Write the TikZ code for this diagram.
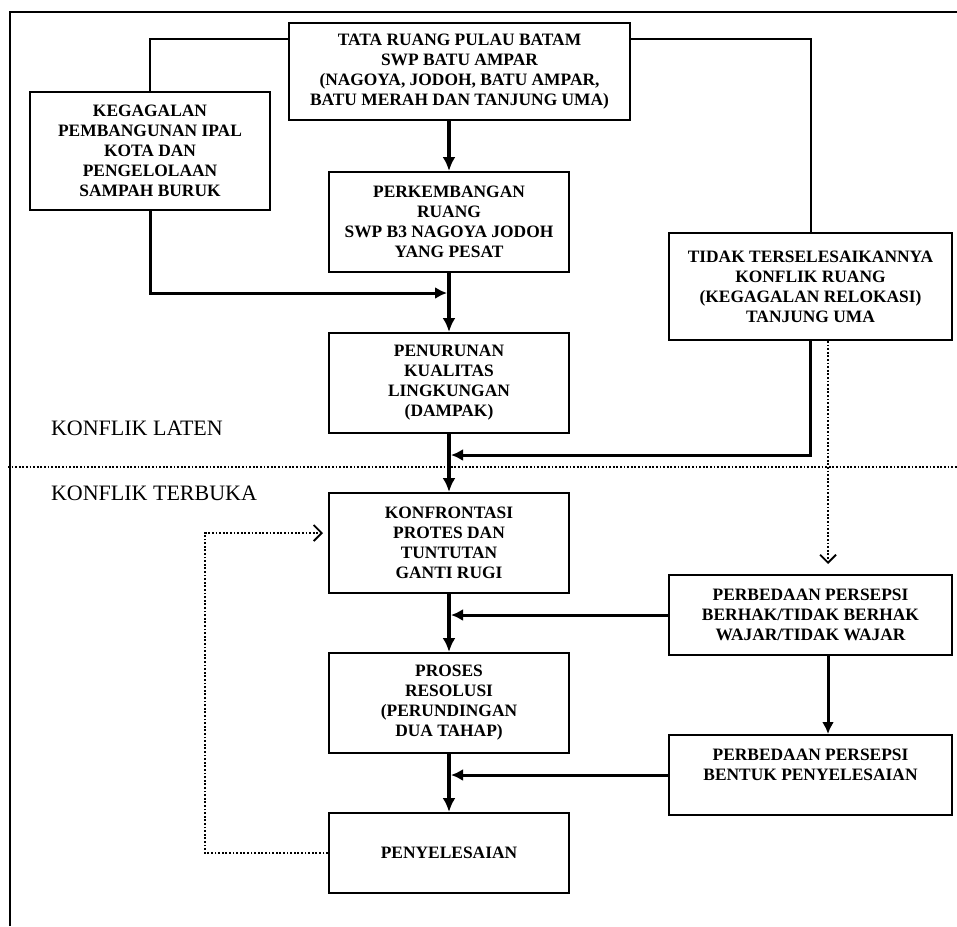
\documentclass[tikz,border=0pt]{standalone}
\usepackage{fontspec}
\setmainfont{Liberation Serif}
\usetikzlibrary{arrows.meta}

\begin{document}
\begin{tikzpicture}[x=0.5pt, y=-0.5pt,
  box/.style={draw, line width=1pt, align=center, inner sep=0pt,
    font=\fontsize{8.7}{10}\selectfont\bfseries},
  trunk/.style={line width=2pt, -{Latex[length=7pt,width=6.5pt]}},
  side/.style={line width=1.5pt, -{Latex[length=6pt,width=6pt]}},
  link/.style={line width=1pt},
  dots/.style={line width=0.9pt, dash pattern=on 0.9pt off 0.9pt},
  dotline/.style={dots, -{Straight Barb[length=4pt,width=8pt]}},
  zone/.style={anchor=west, font=\fontsize{11}{13}\selectfont}]
  \useasboundingbox (0,0) rectangle (957,926);

  % frame
  \draw[line width=1pt] (10,926) -- (10,12) -- (957,12);
  % border latent / open
  \draw[dots] (8,467) -- (957,467);
  \node[zone] (laten) at (44,428) {KONFLIK LATEN};
  \node[zone] (terbuka) at (44,493) {KONFLIK TERBUKA};

  % boxes
  \node[box, minimum width=170.5pt, minimum height=48.5pt] (tata) at (459.5,71.5)
    {TATA RUANG PULAU BATAM\\SWP BATU AMPAR\\(NAGOYA, JODOH, BATU AMPAR,\\BATU MERAH DAN TANJUNG UMA)};
  \node[box, minimum width=120pt, minimum height=59pt] (gagal) at (150,151)
    {KEGAGALAN\\PEMBANGUNAN IPAL\\KOTA DAN\\PENGELOLAAN\\SAMPAH BURUK};
  \node[box, minimum width=120pt, minimum height=50pt] (kembang) at (449,222)
    {PERKEMBANGAN\\RUANG\\SWP B3 NAGOYA JODOH\\YANG PESAT};
  \node[box, minimum width=141.5pt, minimum height=53.5pt] (tidak) at (810.5,286.5)
    {TIDAK TERSELESAIKANNYA\\KONFLIK RUANG\\(KEGAGALAN RELOKASI)\\TANJUNG UMA};
  \node[box, minimum width=120pt, minimum height=50pt] (turun) at (449,383)
    {PENURUNAN\\KUALITAS\\LINGKUNGAN\\(DAMPAK)};
  \node[box, minimum width=120pt, minimum height=50pt] (konfron) at (449,543)
    {KONFRONTASI\\PROTES DAN\\TUNTUTAN\\GANTI RUGI};
  \node[box, minimum width=141.5pt, minimum height=40pt] (beda1) at (810.5,615)
    {PERBEDAAN PERSEPSI\\BERHAK/TIDAK BERHAK\\WAJAR/TIDAK WAJAR};
  \node[box, minimum width=120pt, minimum height=50pt] (proses) at (449,703)
    {PROSES\\RESOLUSI\\(PERUNDINGAN\\DUA TAHAP)};
  \node[box, minimum width=141.5pt, minimum height=40pt] (beda2) at (810.5,775)
    {PERBEDAAN PERSEPSI\\BENTUK PENYELESAIAN\\\phantom{X}};
  \node[box, minimum width=120pt, minimum height=40pt] (selesai) at (449,853)
    {PENYELESAIAN};

  \coordinate (j1) at (449,293);
  \coordinate (j2) at (449,455);

  % main line
  \draw[trunk] (kembang.north |- tata.south) -- (kembang.north);
  \draw[trunk] (kembang.south) -- (turun.north);
  \draw[trunk] (turun.south) -- (konfron.north);
  \draw[trunk] (konfron.south) -- (proses.north);
  \draw[trunk] (proses.south) -- (selesai.north);

  % branches
  \draw[link] ([yshift=16.25pt]tata.west) -| (gagal.north);
  \draw[link] ([yshift=16.25pt]tata.east) -| (tidak.north);
  \draw[side, shorten >=1pt] (gagal.south) |- (j1);
  \draw[side, shorten >=1pt] (tidak.south) |- (j2);
  \draw[side, shorten >=1pt] (beda1.west) -- (beda1.west -| konfron.south);
  \draw[side] ([xshift=8.75pt]beda1.south) -- ([xshift=8.75pt]beda2.north);
  \draw[side, shorten >=1pt] (beda2.west) -- (beda2.west -| proses.south);

  % dotted links
  \draw[dotline, shorten >=5pt] ([xshift=8.75pt]tidak.south) -- ([xshift=8.75pt]beda1.north);
  \draw[dotline, shorten >=2.5pt] (selesai.west) -- ++(-123,0) |- ([yshift=5pt]konfron.west);

\end{tikzpicture}
\end{document}
